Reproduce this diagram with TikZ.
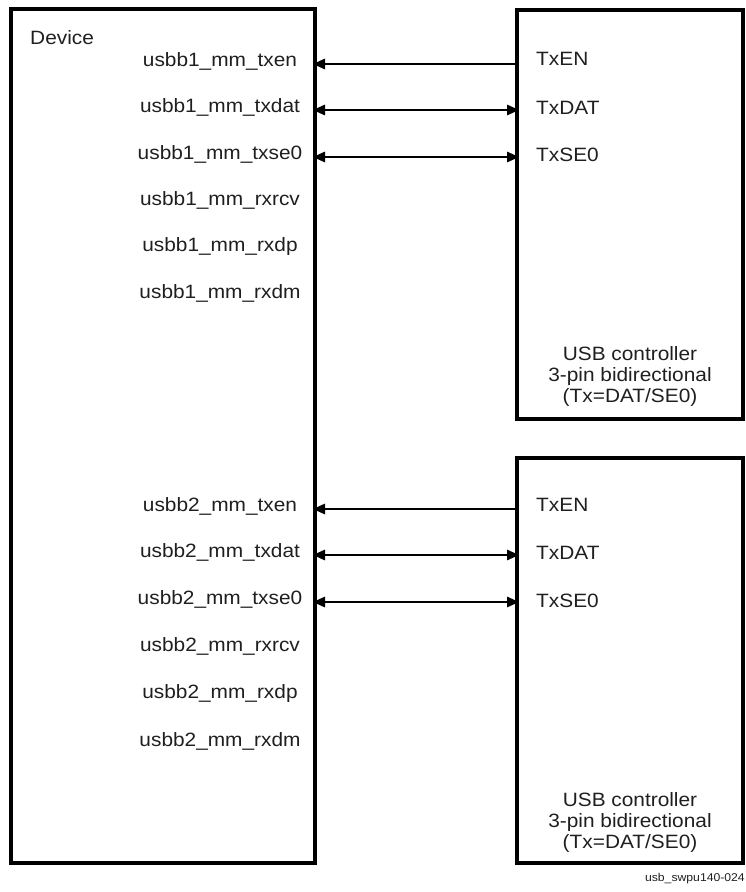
\documentclass[tikz,border=0pt]{standalone}
\usepackage{fontspec}
\setmainfont{Liberation Sans}[FakeStretch=1.08]
\usetikzlibrary{arrows.meta}
\begin{document}
\begin{tikzpicture}[x=1pt,y=-1pt,
  box/.style={draw, line width=4pt, rectangle, anchor=north west, inner sep=0pt, outer sep=0pt},
  lbl/.style={font=\fontsize{19.3}{21}\selectfont, text=black!88, inner sep=0pt, anchor=mid},
  rlbl/.style={font=\fontsize{19.3}{21}\selectfont, text=black!88, inner sep=0pt, anchor=mid west},
  ctl/.style={font=\fontsize{19.3}{21}\selectfont, text=black!88, inner sep=0pt, align=center},
  tip/.tip={Triangle[length=12pt,width=10.5pt]},
  sigin/.style={line width=1.4pt, -tip, shorten >=-2pt, shorten <=-2pt},
  sigbi/.style={line width=1.4pt, tip-tip, shorten >=-2pt, shorten <=-2pt}]
\useasboundingbox (0,0) rectangle (746,892);

% boxes
\node[box, minimum width=304pt, minimum height=854pt] (dev) at (11,9) {};
\node[box, minimum width=226pt, minimum height=409pt] (rb1) at (517,10) {};
\node[box, minimum width=226pt, minimum height=405pt] (rb2) at (517,458) {};

\node[font=\fontsize{19.3}{21}\selectfont, text=black!88, inner sep=0pt, anchor=mid west] (devl) at (30,42) {Device};

% group 1 device labels
\node[lbl] (a1) at (220,64) {usbb1\_mm\_txen};
\node[lbl] (a2) at (220,110) {usbb1\_mm\_txdat};
\node[lbl] (a3) at (220,157) {usbb1\_mm\_txse0};
\node[lbl] (a4) at (220,203) {usbb1\_mm\_rxrcv};
\node[lbl] (a5) at (220,249) {usbb1\_mm\_rxdp};
\node[lbl] (a6) at (220,296) {usbb1\_mm\_rxdm};

% group 2 device labels
\node[lbl] (b1) at (220,509) {usbb2\_mm\_txen};
\node[lbl] (b2) at (220,555) {usbb2\_mm\_txdat};
\node[lbl] (b3) at (220,602) {usbb2\_mm\_txse0};
\node[lbl] (b4) at (220,649) {usbb2\_mm\_rxrcv};
\node[lbl] (b5) at (220,696) {usbb2\_mm\_rxdp};
\node[lbl] (b6) at (220,744) {usbb2\_mm\_rxdm};

% controller labels
\node[rlbl] (r1) at (536,63) {TxEN};
\node[rlbl] (r2) at (536,112) {TxDAT};
\node[rlbl] (r3) at (536,159) {TxSE0};
\node[rlbl] (s1) at (536,509) {TxEN};
\node[rlbl] (s2) at (536,557) {TxDAT};
\node[rlbl] (s3) at (536,605) {TxSE0};

\node[ctl] (c1) at (630,376) {USB controller\\3-pin bidirectional\\(Tx=DAT/SE0)};
\node[ctl] (c2) at (630,822) {USB controller\\3-pin bidirectional\\(Tx=DAT/SE0)};

% connectors
\draw[sigin] (rb1.west |- a1.mid) -- (dev.east |- a1.mid);
\draw[sigbi] (dev.east |- a2.mid) -- (rb1.west |- a2.mid);
\draw[sigbi] (dev.east |- a3.mid) -- (rb1.west |- a3.mid);
\draw[sigin] (rb2.west |- b1.mid) -- (dev.east |- b1.mid);
\draw[sigbi] (dev.east |- b2.mid) -- (rb2.west |- b2.mid);
\draw[sigbi] (dev.east |- b3.mid) -- (rb2.west |- b3.mid);

\node[font=\fontsize{11.3}{12}\selectfont, text=black!88, inner sep=0pt, anchor=mid east] (cap) at (745,879) {usb\_swpu140-024};
\end{tikzpicture}
\end{document}
